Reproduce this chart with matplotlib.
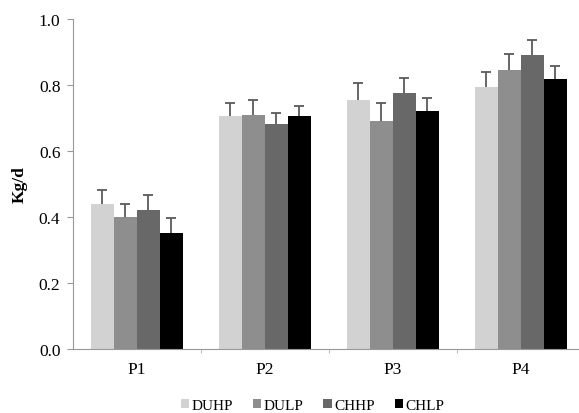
import numpy as np
import matplotlib.pyplot as plt

plt.rcParams['font.family'] = ['Liberation Serif', 'DejaVu Serif']

periods = ["P1", "P2", "P3", "P4"]
groups = ["DUHP", "DULP", "CHHP", "CHLP"]

duhp = [0.44, 0.705, 0.755, 0.795]
dulp = [0.40, 0.71, 0.69, 0.845]
chhp = [0.42, 0.68, 0.775, 0.89]
chlp = [0.35, 0.705, 0.72, 0.818]

duhp_err = [0.04, 0.04, 0.05, 0.045]
dulp_err = [0.04, 0.045, 0.055, 0.05]
chhp_err = [0.045, 0.035, 0.045, 0.045]
chlp_err = [0.045, 0.03, 0.04, 0.04]

colors = ["#d2d2d2", "#8e8e8e", "#686868", "#000000"]

fig = plt.figure(figsize=(5.79, 4.14), dpi=100)
ax = fig.add_axes([0.126, 0.155, 0.884, 0.797])

x = np.arange(len(periods))
w = 0.18
values = [duhp, dulp, chhp, chlp]
errs = [duhp_err, dulp_err, chhp_err, chlp_err]
for i, (vals, err, name) in enumerate(zip(values, errs, groups)):
    pos = x + (i - 1.5) * w
    # symmetric error bar drawn under the bar, so only the upper half shows
    ax.errorbar(pos, vals, yerr=err, fmt="none", ecolor="#5a5a5a",
                elinewidth=1.3, capsize=3.5, capthick=1.3, zorder=1)
    ax.bar(pos, vals, width=w, color=colors[i], label=name, zorder=2)

ax.set_xlim(-0.5, 3.5)
ax.set_ylim(0, 1.0)
ax.set_yticks([0.0, 0.2, 0.4, 0.6, 0.8, 1.0])
ax.set_yticklabels(["0.0", "0.2", "0.4", "0.6", "0.8", "1.0"], fontsize=12.5)
ax.set_xticks(x)
ax.set_xticklabels(periods, fontsize=12.5)
ax.set_xticks([0.5, 1.5, 2.5], minor=True)
ax.tick_params(axis="x", which="major", length=0, pad=9)
ax.tick_params(axis="x", which="minor", length=3, color="#aaaaaa")
ax.tick_params(axis="y", length=4, color="#999999", pad=5)
ax.set_ylabel("Kg/d", fontsize=12.5, fontweight="bold", labelpad=8)

for s in ["top", "right"]:
    ax.spines[s].set_visible(False)
ax.spines["left"].set_color("#999999")
ax.spines["bottom"].set_color("#999999")

fig.legend(loc="lower center", bbox_to_anchor=(0.54, -0.03), ncol=4, frameon=False,
           fontsize=11, handlelength=0.55, handleheight=0.55, handletextpad=0.15,
           columnspacing=1.3)

plt.savefig("out.png", dpi=100)
